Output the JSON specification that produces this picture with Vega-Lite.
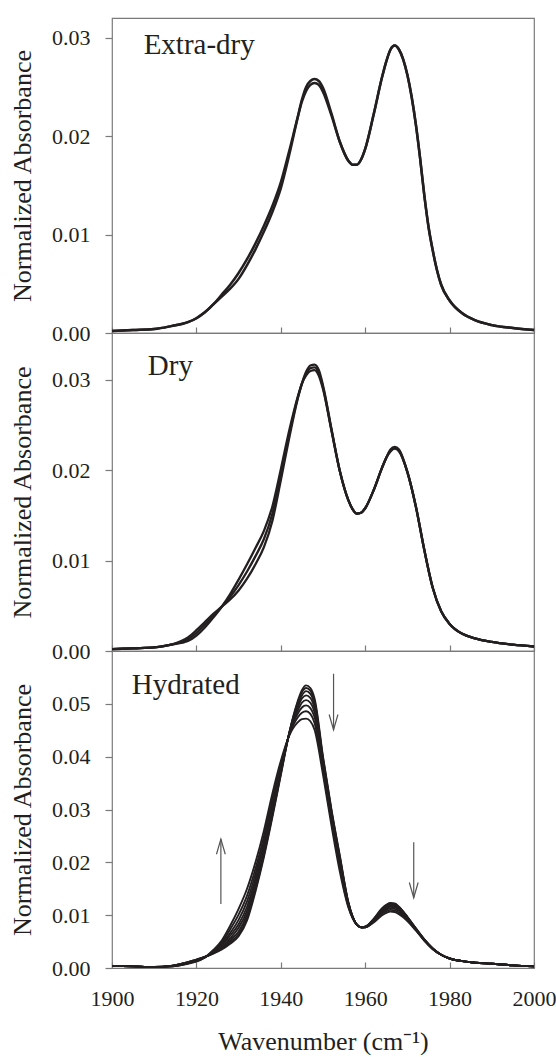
{
  "$schema": "https://vega.github.io/schema/vega-lite/v6.json",
  "padding": {"left": 8, "top": 17, "right": 0, "bottom": 0},
  "spacing": 0,
  "bounds": "flush",
  "config": {
    "view": {"stroke": "#7a7a7a", "strokeWidth": 1.2},
    "axis": {"labelFont": "Liberation Serif", "titleFont": "Liberation Serif", "labelFontSize": 22, "titleFontSize": 26, "titleFontWeight": "normal", "labelColor": "#231f20", "titleColor": "#231f20", "grid": false, "domain": false, "tickColor": "#7a7a7a", "tickWidth": 1.2},
    "text": {"font": "Liberation Serif"}
  },
  "datasets": {
    "ed": [
      {"x":1900,"e1":0.0002,"e2":0.0002},{"x":1905,"e1":0.0003,"e2":0.0003},{"x":1910,"e1":0.0004,"e2":0.0004},
      {"x":1914,"e1":0.0007,"e2":0.0007},{"x":1918,"e1":0.0011,"e2":0.0011},{"x":1920,"e1":0.0015,"e2":0.0015},
      {"x":1922,"e1":0.0021,"e2":0.0021},{"x":1924,"e1":0.0029,"e2":0.0029},{"x":1926,"e1":0.0039,"e2":0.0037},
      {"x":1928,"e1":0.0049,"e2":0.0045},{"x":1930,"e1":0.0061,"e2":0.0055},{"x":1932,"e1":0.0075,"e2":0.0069},
      {"x":1934,"e1":0.0091,"e2":0.0085},{"x":1936,"e1":0.0109,"e2":0.0103},{"x":1938,"e1":0.0129,"e2":0.0123},
      {"x":1940,"e1":0.0153,"e2":0.0147},{"x":1942,"e1":0.0185,"e2":0.0181},{"x":1944,"e1":0.0219,"e2":0.0219},
      {"x":1945,"e1":0.0235,"e2":0.0237},{"x":1946,"e1":0.0246,"e2":0.0250},{"x":1947,"e1":0.0252,"e2":0.0256},
      {"x":1948,"e1":0.0254,"e2":0.0258},{"x":1949,"e1":0.0252,"e2":0.0256},{"x":1950,"e1":0.0245,"e2":0.0249},
      {"x":1952,"e1":0.0221,"e2":0.0223},{"x":1954,"e1":0.0194,"e2":0.0194},{"x":1956,"e1":0.0175,"e2":0.0175},
      {"x":1957,"e1":0.0171,"e2":0.0171},{"x":1958,"e1":0.0171,"e2":0.0171},{"x":1959,"e1":0.0176,"e2":0.0176},
      {"x":1960,"e1":0.0187,"e2":0.0187},{"x":1962,"e1":0.0222,"e2":0.0222},{"x":1964,"e1":0.0260,"e2":0.0260},
      {"x":1965,"e1":0.0276,"e2":0.0276},{"x":1966,"e1":0.0288,"e2":0.0288},{"x":1967,"e1":0.0292,"e2":0.0292},
      {"x":1968,"e1":0.0288,"e2":0.0288},{"x":1969,"e1":0.0278,"e2":0.0278},{"x":1970,"e1":0.0262,"e2":0.0262},
      {"x":1971,"e1":0.0240,"e2":0.0240},{"x":1972,"e1":0.0212,"e2":0.0212},{"x":1973,"e1":0.0178,"e2":0.0178},
      {"x":1974,"e1":0.0140,"e2":0.0140},{"x":1975,"e1":0.0108,"e2":0.0108},{"x":1976,"e1":0.0084,"e2":0.0084},
      {"x":1977,"e1":0.0064,"e2":0.0064},{"x":1978,"e1":0.0049,"e2":0.0049},{"x":1980,"e1":0.0033,"e2":0.0033},
      {"x":1983,"e1":0.0020,"e2":0.0020},{"x":1986,"e1":0.0013,"e2":0.0013},{"x":1990,"e1":0.0008,"e2":0.0008},
      {"x":1995,"e1":0.0005,"e2":0.0005},{"x":2000,"e1":0.0003,"e2":0.0003}
    ],
    "dr": [
      {"x":1900,"d1":0.0002,"d2":0.0002,"d3":0.0002},{"x":1905,"d1":0.0003,"d2":0.0003,"d3":0.0003},
      {"x":1910,"d1":0.0004,"d2":0.0004,"d3":0.0004},{"x":1914,"d1":0.0007,"d2":0.0007,"d3":0.0007},
      {"x":1918,"d1":0.0011,"d2":0.0013,"d3":0.0015},{"x":1920,"d1":0.0017,"d2":0.0020,"d3":0.0023},
      {"x":1922,"d1":0.0026,"d2":0.0029,"d3":0.0032},{"x":1924,"d1":0.0037,"d2":0.0039,"d3":0.0041},
      {"x":1926,"d1":0.0049,"d2":0.0049,"d3":0.0049},{"x":1928,"d1":0.0063,"d2":0.0060,"d3":0.0057},
      {"x":1930,"d1":0.0079,"d2":0.0073,"d3":0.0067},{"x":1932,"d1":0.0096,"d2":0.0088,"d3":0.0080},
      {"x":1934,"d1":0.0114,"d2":0.0105,"d3":0.0096},{"x":1936,"d1":0.0133,"d2":0.0124,"d3":0.0115},
      {"x":1938,"d1":0.0160,"d2":0.0152,"d3":0.0144},{"x":1940,"d1":0.0201,"d2":0.0195,"d3":0.0189},
      {"x":1942,"d1":0.0244,"d2":0.0240,"d3":0.0236},{"x":1944,"d1":0.0281,"d2":0.0280,"d3":0.0279},
      {"x":1945,"d1":0.0296,"d2":0.0296,"d3":0.0296},{"x":1946,"d1":0.0305,"d2":0.0307,"d3":0.0309},
      {"x":1947,"d1":0.0310,"d2":0.0313,"d3":0.0316},{"x":1948,"d1":0.0311,"d2":0.0314,"d3":0.0317},
      {"x":1949,"d1":0.0305,"d2":0.0308,"d3":0.0311},{"x":1950,"d1":0.0290,"d2":0.0292,"d3":0.0294},
      {"x":1952,"d1":0.0244,"d2":0.0245,"d3":0.0246},{"x":1954,"d1":0.0199,"d2":0.0199,"d3":0.0199},
      {"x":1956,"d1":0.0167,"d2":0.0167,"d3":0.0167},{"x":1957,"d1":0.0157,"d2":0.0157,"d3":0.0157},
      {"x":1958,"d1":0.0152,"d2":0.0152,"d3":0.0152},{"x":1959,"d1":0.0153,"d2":0.0153,"d3":0.0153},
      {"x":1960,"d1":0.0158,"d2":0.0158,"d3":0.0158},{"x":1962,"d1":0.0178,"d2":0.0178,"d3":0.0178},
      {"x":1964,"d1":0.0203,"d2":0.0203,"d3":0.0203},{"x":1965,"d1":0.0214,"d2":0.0214,"d3":0.0214},
      {"x":1966,"d1":0.0221,"d2":0.0222,"d3":0.0223},{"x":1967,"d1":0.0224,"d2":0.0225,"d3":0.0226},
      {"x":1968,"d1":0.0221,"d2":0.0222,"d3":0.0223},{"x":1970,"d1":0.0198,"d2":0.0198,"d3":0.0198},
      {"x":1972,"d1":0.0160,"d2":0.0160,"d3":0.0160},{"x":1974,"d1":0.0112,"d2":0.0112,"d3":0.0112},
      {"x":1976,"d1":0.0070,"d2":0.0070,"d3":0.0070},{"x":1978,"d1":0.0044,"d2":0.0044,"d3":0.0044},
      {"x":1980,"d1":0.0030,"d2":0.0030,"d3":0.0030},{"x":1983,"d1":0.0019,"d2":0.0019,"d3":0.0019},
      {"x":1986,"d1":0.0014,"d2":0.0014,"d3":0.0014},{"x":1990,"d1":0.0010,"d2":0.0010,"d3":0.0010},
      {"x":1995,"d1":0.0007,"d2":0.0007,"d3":0.0007},{"x":2000,"d1":0.0005,"d2":0.0005,"d3":0.0005}
    ],
    "hy": [
      {"x":1900,"h1":0.0004,"h2":0.0004,"h3":0.0004,"h4":0.0004,"h5":0.0004,"h6":0.0004,"h7":0.0004,"h8":0.0004},
      {"x":1905,"h1":0.0003,"h2":0.0003,"h3":0.0003,"h4":0.0003,"h5":0.0003,"h6":0.0003,"h7":0.0003,"h8":0.0003},
      {"x":1910,"h1":0.0002,"h2":0.0002,"h3":0.0002,"h4":0.0002,"h5":0.0002,"h6":0.0002,"h7":0.0002,"h8":0.0002},
      {"x":1914,"h1":0.0004,"h2":0.0004,"h3":0.0004,"h4":0.0004,"h5":0.0003,"h6":0.0003,"h7":0.0003,"h8":0.0003},
      {"x":1918,"h1":0.0011,"h2":0.0011,"h3":0.0011,"h4":0.0010,"h5":0.0010,"h6":0.0009,"h7":0.0009,"h8":0.0008},
      {"x":1920,"h1":0.0016,"h2":0.0016,"h3":0.0015,"h4":0.0015,"h5":0.0014,"h6":0.0014,"h7":0.0013,"h8":0.0012},
      {"x":1922,"h1":0.0021,"h2":0.0021,"h3":0.0021,"h4":0.0021,"h5":0.0020,"h6":0.0020,"h7":0.0020,"h8":0.0020},
      {"x":1924,"h1":0.0027,"h2":0.0028,"h3":0.0028,"h4":0.0029,"h5":0.0030,"h6":0.0031,"h7":0.0032,"h8":0.0034},
      {"x":1926,"h1":0.0035,"h2":0.0036,"h3":0.0038,"h4":0.0040,"h5":0.0043,"h6":0.0045,"h7":0.0048,"h8":0.0052},
      {"x":1928,"h1":0.0046,"h2":0.0049,"h3":0.0052,"h4":0.0056,"h5":0.0061,"h6":0.0066,"h7":0.0073,"h8":0.0080},
      {"x":1930,"h1":0.0060,"h2":0.0064,"h3":0.0069,"h4":0.0076,"h5":0.0083,"h6":0.0091,"h7":0.0101,"h8":0.0112},
      {"x":1932,"h1":0.0090,"h2":0.0095,"h3":0.0101,"h4":0.0108,"h5":0.0116,"h6":0.0126,"h7":0.0137,"h8":0.0150},
      {"x":1934,"h1":0.0145,"h2":0.0149,"h3":0.0155,"h4":0.0162,"h5":0.0169,"h6":0.0178,"h7":0.0188,"h8":0.0200},
      {"x":1936,"h1":0.0210,"h2":0.0214,"h3":0.0219,"h4":0.0225,"h5":0.0232,"h6":0.0240,"h7":0.0249,"h8":0.0260},
      {"x":1938,"h1":0.0285,"h2":0.0289,"h3":0.0293,"h4":0.0299,"h5":0.0305,"h6":0.0312,"h7":0.0320,"h8":0.0330},
      {"x":1940,"h1":0.0365,"h2":0.0367,"h3":0.0370,"h4":0.0373,"h5":0.0377,"h6":0.0381,"h7":0.0386,"h8":0.0392},
      {"x":1942,"h1":0.0445,"h2":0.0445,"h3":0.0444,"h4":0.0444,"h5":0.0443,"h6":0.0442,"h7":0.0441,"h8":0.0440},
      {"x":1944,"h1":0.0505,"h2":0.0502,"h3":0.0498,"h4":0.0493,"h5":0.0487,"h6":0.0481,"h7":0.0474,"h8":0.0465},
      {"x":1945,"h1":0.0526,"h2":0.0522,"h3":0.0516,"h4":0.0510,"h5":0.0502,"h6":0.0493,"h7":0.0483,"h8":0.0471},
      {"x":1946,"h1":0.0535,"h2":0.0530,"h3":0.0524,"h4":0.0516,"h5":0.0507,"h6":0.0497,"h7":0.0486,"h8":0.0472},
      {"x":1947,"h1":0.0530,"h2":0.0525,"h3":0.0519,"h4":0.0511,"h5":0.0502,"h6":0.0492,"h7":0.0481,"h8":0.0467},
      {"x":1948,"h1":0.0510,"h2":0.0505,"h3":0.0499,"h4":0.0492,"h5":0.0484,"h6":0.0475,"h7":0.0464,"h8":0.0451},
      {"x":1950,"h1":0.0400,"h2":0.0397,"h3":0.0394,"h4":0.0390,"h5":0.0385,"h6":0.0380,"h7":0.0373,"h8":0.0366},
      {"x":1952,"h1":0.0300,"h2":0.0298,"h3":0.0295,"h4":0.0291,"h5":0.0287,"h6":0.0282,"h7":0.0277,"h8":0.0270},
      {"x":1954,"h1":0.0212,"h2":0.0210,"h3":0.0207,"h4":0.0203,"h5":0.0199,"h6":0.0194,"h7":0.0189,"h8":0.0182},
      {"x":1956,"h1":0.0125,"h2":0.0124,"h3":0.0123,"h4":0.0122,"h5":0.0121,"h6":0.0119,"h7":0.0117,"h8":0.0115},
      {"x":1958,"h1":0.0082,"h2":0.0082,"h3":0.0082,"h4":0.0082,"h5":0.0082,"h6":0.0082,"h7":0.0082,"h8":0.0082},
      {"x":1959,"h1":0.0077,"h2":0.0077,"h3":0.0077,"h4":0.0077,"h5":0.0077,"h6":0.0077,"h7":0.0077,"h8":0.0077},
      {"x":1960,"h1":0.0078,"h2":0.0078,"h3":0.0078,"h4":0.0078,"h5":0.0077,"h6":0.0077,"h7":0.0077,"h8":0.0077},
      {"x":1962,"h1":0.0093,"h2":0.0092,"h3":0.0092,"h4":0.0091,"h5":0.0090,"h6":0.0089,"h7":0.0088,"h8":0.0086},
      {"x":1964,"h1":0.0113,"h2":0.0112,"h3":0.0111,"h4":0.0109,"h5":0.0107,"h6":0.0105,"h7":0.0103,"h8":0.0100},
      {"x":1966,"h1":0.0123,"h2":0.0122,"h3":0.0120,"h4":0.0118,"h5":0.0116,"h6":0.0113,"h7":0.0110,"h8":0.0107},
      {"x":1967,"h1":0.0122,"h2":0.0121,"h3":0.0119,"h4":0.0117,"h5":0.0115,"h6":0.0112,"h7":0.0109,"h8":0.0106},
      {"x":1968,"h1":0.0116,"h2":0.0115,"h3":0.0114,"h4":0.0112,"h5":0.0110,"h6":0.0108,"h7":0.0105,"h8":0.0102},
      {"x":1970,"h1":0.0097,"h2":0.0096,"h3":0.0096,"h4":0.0095,"h5":0.0094,"h6":0.0092,"h7":0.0091,"h8":0.0089},
      {"x":1972,"h1":0.0075,"h2":0.0075,"h3":0.0074,"h4":0.0074,"h5":0.0073,"h6":0.0073,"h7":0.0072,"h8":0.0071},
      {"x":1974,"h1":0.0054,"h2":0.0054,"h3":0.0054,"h4":0.0053,"h5":0.0053,"h6":0.0053,"h7":0.0052,"h8":0.0052},
      {"x":1976,"h1":0.0037,"h2":0.0037,"h3":0.0037,"h4":0.0037,"h5":0.0036,"h6":0.0036,"h7":0.0036,"h8":0.0036},
      {"x":1978,"h1":0.0025,"h2":0.0025,"h3":0.0025,"h4":0.0025,"h5":0.0025,"h6":0.0025,"h7":0.0025,"h8":0.0025},
      {"x":1980,"h1":0.0018,"h2":0.0018,"h3":0.0018,"h4":0.0018,"h5":0.0018,"h6":0.0018,"h7":0.0018,"h8":0.0018},
      {"x":1983,"h1":0.0013,"h2":0.0013,"h3":0.0013,"h4":0.0013,"h5":0.0013,"h6":0.0013,"h7":0.0013,"h8":0.0013},
      {"x":1986,"h1":0.0010,"h2":0.0010,"h3":0.0010,"h4":0.0010,"h5":0.0010,"h6":0.0010,"h7":0.0010,"h8":0.0010},
      {"x":1990,"h1":0.0008,"h2":0.0008,"h3":0.0008,"h4":0.0008,"h5":0.0008,"h6":0.0008,"h7":0.0008,"h8":0.0008},
      {"x":1995,"h1":0.0005,"h2":0.0005,"h3":0.0005,"h4":0.0005,"h5":0.0005,"h6":0.0005,"h7":0.0005,"h8":0.0005},
      {"x":2000,"h1":0.0003,"h2":0.0003,"h3":0.0003,"h4":0.0003,"h5":0.0003,"h6":0.0003,"h7":0.0003,"h8":0.0003}
    ],
    "labels": [
      {"panel":"ed","label":"Extra-dry","x":1907.5,"y":0.0283},
      {"panel":"dr","label":"Dry","x":1908.5,"y":0.0306},
      {"panel":"hy","label":"Hydrated","x":1904.7,"y":0.0518}
    ],
    "arrows": [
      {"x":1925.8,"y1":0.0121,"y2":0.0244,"dir":"up"},
      {"x":1952.5,"y1":0.0557,"y2":0.0451,"dir":"down"},
      {"x":1971.5,"y1":0.0238,"y2":0.0133,"dir":"down"}
    ]
  },
  "vconcat": [
    {
      "width": 422, "height": 315,
      "layer": [
        {
          "data": {"name": "ed"},
          "transform": [{"fold": ["e1", "e2"], "as": ["curve", "abs"]}],
          "mark": {"type": "line", "interpolate": "monotone", "color": "#231f20", "strokeWidth": 2.5},
          "encoding": {
            "x": {"field": "x", "type": "quantitative", "scale": {"domain": [1900, 2000], "nice": false}, "axis": {"title": null, "labels": false, "values": [1900, 1920, 1940, 1960, 1980, 2000], "tickSize": -6}},
            "y": {"field": "abs", "type": "quantitative", "scale": {"domain": [0, 0.032], "nice": false}, "axis": {"title": "Normalized Absorbance", "values": [0, 0.01, 0.02, 0.03], "format": ".2f", "tickSize": 7, "labelPadding": 15, "titlePadding": 16}},
            "detail": {"field": "curve"}
          }
        },
        {
          "data": {"name": "labels"},
          "transform": [{"filter": "datum.panel === 'ed'"}],
          "mark": {"type": "text", "align": "left", "baseline": "alphabetic", "fontSize": 29, "color": "#231f20"},
          "encoding": {"x": {"field": "x", "type": "quantitative"}, "y": {"field": "y", "type": "quantitative"}, "text": {"field": "label"}}
        }
      ]
    },
    {
      "width": 422, "height": 318,
      "layer": [
        {
          "data": {"name": "dr"},
          "transform": [{"fold": ["d1", "d2", "d3"], "as": ["curve", "abs"]}],
          "mark": {"type": "line", "interpolate": "monotone", "color": "#231f20", "strokeWidth": 2.3},
          "encoding": {
            "x": {"field": "x", "type": "quantitative", "scale": {"domain": [1900, 2000], "nice": false}, "axis": {"title": null, "labels": false, "values": [1900, 1920, 1940, 1960, 1980, 2000], "tickSize": -6}},
            "y": {"field": "abs", "type": "quantitative", "scale": {"domain": [0, 0.0352], "nice": false}, "axis": {"title": "Normalized Absorbance", "values": [0, 0.01, 0.02, 0.03], "format": ".2f", "tickSize": 7, "labelPadding": 15, "titlePadding": 16}},
            "detail": {"field": "curve"}
          }
        },
        {
          "data": {"name": "labels"},
          "transform": [{"filter": "datum.panel === 'dr'"}],
          "mark": {"type": "text", "align": "left", "baseline": "alphabetic", "fontSize": 29, "color": "#231f20"},
          "encoding": {"x": {"field": "x", "type": "quantitative"}, "y": {"field": "y", "type": "quantitative"}, "text": {"field": "label"}}
        }
      ]
    },
    {
      "width": 422, "height": 317,
      "layer": [
        {
          "data": {"name": "hy"},
          "transform": [{"fold": ["h1", "h2", "h3", "h4", "h5", "h6", "h7", "h8"], "as": ["curve", "abs"]}],
          "mark": {"type": "line", "interpolate": "monotone", "color": "#231f20", "strokeWidth": 1.9},
          "encoding": {
            "x": {"field": "x", "type": "quantitative", "scale": {"domain": [1900, 2000], "nice": false}, "axis": {"title": "Wavenumber (cm⁻¹)", "values": [1900, 1920, 1940, 1960, 1980, 2000], "format": "d", "tickSize": -6, "labelPadding": 26, "titlePadding": 19, "labelFlush": false}},
            "y": {"field": "abs", "type": "quantitative", "scale": {"domain": [0, 0.06], "nice": false}, "axis": {"title": "Normalized Absorbance", "values": [0, 0.01, 0.02, 0.03, 0.04, 0.05], "format": ".2f", "tickSize": 7, "labelPadding": 15, "titlePadding": 16}},
            "detail": {"field": "curve"}
          }
        },
        {
          "data": {"name": "labels"},
          "transform": [{"filter": "datum.panel === 'hy'"}],
          "mark": {"type": "text", "align": "left", "baseline": "alphabetic", "fontSize": 29, "color": "#231f20"},
          "encoding": {"x": {"field": "x", "type": "quantitative"}, "y": {"field": "y", "type": "quantitative"}, "text": {"field": "label"}}
        },
        {
          "data": {"name": "arrows"},
          "mark": {"type": "rule", "color": "#555555", "strokeWidth": 1.2},
          "encoding": {"x": {"field": "x", "type": "quantitative"}, "y": {"field": "y1", "type": "quantitative"}, "y2": {"field": "y2"}}
        },
        {
          "data": {"name": "arrows"},
          "mark": {"type": "point", "filled": false, "stroke": "#555555", "strokeWidth": 1.2, "size": 256, "opacity": 1},
          "encoding": {
            "x": {"field": "x", "type": "quantitative"},
            "y": {"field": "y2", "type": "quantitative"},
            "shape": {"field": "dir", "type": "nominal", "scale": {"domain": ["up", "down"], "range": ["M-0.55,1.9L0,0L0.55,1.9", "M-0.55,-1.9L0,0L0.55,-1.9"]}, "legend": null}
          }
        }
      ]
    }
  ]
}
